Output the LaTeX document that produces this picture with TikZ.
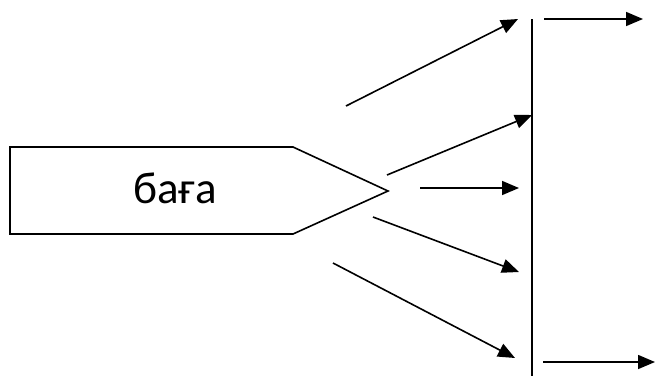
\documentclass[tikz,border=0pt]{standalone}
\usepackage{fontspec}
\setmainfont{Carlito}
\usetikzlibrary{arrows.meta}

\begin{document}
\begin{tikzpicture}[x=1pt, y=-1pt, line width=1.6pt, arr/.style = {-{Triangle[length=17pt, width=14pt]}}, word/.style = {font=\fontsize{45}{52}\selectfont}]
\useasboundingbox (0,0) rectangle (656,376);
\draw (10,147) -- (293,147) -- (388,191) -- (293,234) -- (10,234) -- cycle;
\node[word] (baga) at (175,188) {баға};
\coordinate (s1) at (346,106);
\coordinate (e1) at (518,19);
\coordinate (s2) at (387,175);
\coordinate (e2) at (532,115);
\coordinate (s3) at (420,188);
\coordinate (e3) at (519,188);
\coordinate (s4) at (373,217);
\coordinate (e4) at (519,272);
\coordinate (s5) at (333,263);
\coordinate (e5) at (515,358);
\coordinate (top) at (532,19);
\coordinate (bot) at (532,376);
\coordinate (r1) at (544,19);
\coordinate (q1) at (643,19);
\coordinate (r2) at (543,362);
\coordinate (q2) at (655,362);
\draw (top) -- (bot);
\draw[arr] (s1) -- (e1);
\draw[arr] (s2) -- (e2);
\draw[arr] (s3) -- (e3);
\draw[arr] (s4) -- (e4);
\draw[arr] (s5) -- (e5);
\draw[arr] (r1) -- (q1);
\draw[arr] (r2) -- (q2);
\end{tikzpicture}
\end{document}
